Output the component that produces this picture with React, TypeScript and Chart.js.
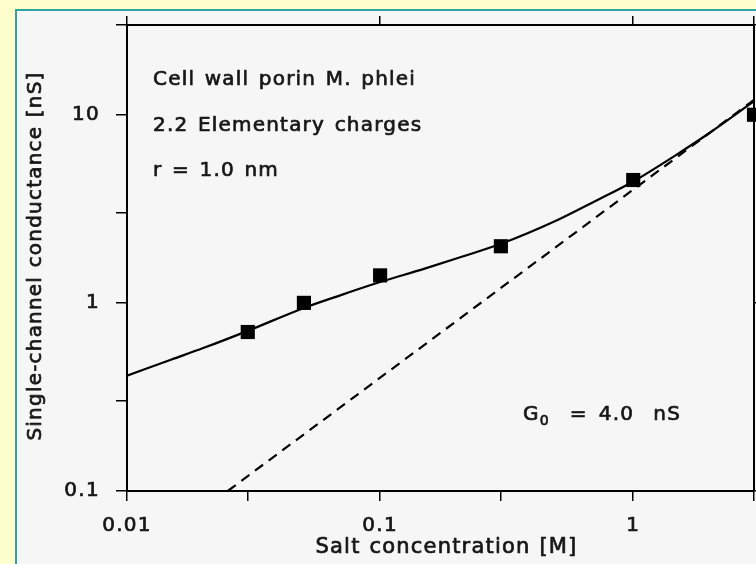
import React, { useEffect, useRef } from 'react';
import { Chart, registerables } from 'chart.js';

Chart.register(...registerables);

// Measured single-channel conductance (squares)
const concentrationsM = [0.03, 0.05, 0.1, 0.3, 1, 3];
const measuredNS = [0.7, 1.0, 1.4, 2.0, 4.5, 10];

// Theoretical fit (solid curve)
const fitConcentrationsM = [0.01, 0.015, 0.02, 0.03, 0.05, 0.07, 0.1, 0.15, 0.2, 0.3, 0.5, 0.7, 1, 1.5, 2, 3];
const fitNS = [0.41, 0.5, 0.575, 0.71, 0.94, 1.1, 1.29, 1.52, 1.72, 2.06, 2.75, 3.45, 4.42, 6.2, 8.0, 11.8];

// Uncharged channel, G = G0 * c (dashed line)
const bulkConcentrationsM = [0.025, 3];
const bulkNS = [0.1, 12];

// Axes
const xTickValues = [0.01, 0.03, 0.1, 0.3, 1, 3];
const xTickLabels = ['0.01', '', '0.1', '', '1', ''];
const yTickValues = [0.1, 0.3, 1, 3, 10, 30];
const yTickLabels = ['0.1', '', '1', '', '10', ''];
const topTickValues = [0.01, 0.1, 1, 3];
const rightTickValues = [0.1, 1, 10, 30];

const xTitle = 'Salt concentration [M]';
const yTitle = 'Single-channel conductance [nS]';
const annotationLines = ['Cell wall porin M. phlei', '2.2 Elementary charges', 'r = 1.0 nm'];

const FONT = "'DejaVu Sans', 'Liberation Sans', Arial, sans-serif";
const INK = '#161616';
const STROKE = 0.7;

function drawText(ctx: CanvasRenderingContext2D, text: string, x: number, y: number) {
  ctx.strokeText(text, x, y);
  ctx.fillText(text, x, y);
}

function fixSize(prop: 'width' | 'height', size: number) {
  return (s: any) => {
    s[prop] = size;
    s.paddingLeft = 0;
    s.paddingRight = 0;
    s.paddingTop = 0;
    s.paddingBottom = 0;
  };
}

export default function App() {
  const ref = useRef<HTMLCanvasElement | null>(null);

  useEffect(() => {
    const canvas = ref.current;
    if (!canvas) return;

    const framePlugin = {
      id: 'frame',
      beforeDraw(chart: any) {
        const ctx = chart.ctx as CanvasRenderingContext2D;
        const w = chart.width;
        const h = chart.height;
        ctx.save();
        ctx.fillStyle = '#ffffcc';
        ctx.fillRect(0, 0, w, h);
        ctx.fillStyle = '#f6f6f6';
        ctx.fillRect(15, 9, w - 15, h - 9);
        ctx.strokeStyle = '#2fa5a0';
        ctx.lineWidth = 2;
        ctx.beginPath();
        ctx.moveTo(16, h);
        ctx.lineTo(16, 10);
        ctx.lineTo(w, 10);
        ctx.stroke();
        ctx.restore();
        (ctx as any).letterSpacing = '1.3px';
      },
      afterDraw(chart: any) {
        const ctx = chart.ctx as CanvasRenderingContext2D;
        const ca = chart.chartArea;
        ctx.save();
        (ctx as any).letterSpacing = '1.2px';
        (ctx as any).wordSpacing = '2px';
        ctx.fillStyle = INK;
        ctx.strokeStyle = INK;
        ctx.lineWidth = STROKE;
        ctx.lineJoin = 'round';
        ctx.textAlign = 'left';
        ctx.textBaseline = 'alphabetic';
        ctx.font = `20px ${FONT}`;
        annotationLines.forEach((t, i) => {
          drawText(ctx, t, ca.left + 26, ca.top + 60 + i * 45.5);
        });
        let x = ca.left + 396;
        const y = ca.top + 395;
        drawText(ctx, 'G', x, y);
        x += ctx.measureText('G').width;
        ctx.font = `14px ${FONT}`;
        drawText(ctx, '0', x, y + 5);
        x += ctx.measureText('0').width;
        ctx.font = `20px ${FONT}`;
        drawText(ctx, '=', x + 20, y);
        drawText(ctx, '4.0  nS', x + 49, y);

        // axis titles
        ctx.font = `21px ${FONT}`;
        (ctx as any).wordSpacing = '1px';
        ctx.textAlign = 'center';
        drawText(ctx, xTitle, (ca.left + ca.right) / 2 + 6, 553);
        ctx.save();
        ctx.font = `20px ${FONT}`;
        ctx.translate(36, (ca.top + ca.bottom) / 2 - 2);
        ctx.rotate(-Math.PI / 2);
        ctx.textBaseline = 'middle';
        drawText(ctx, yTitle, 0, 0);
        ctx.restore();
        ctx.restore();
      },
    };

    const tickGrid = (len: number) => ({
      drawOnChartArea: false,
      drawTicks: true,
      tickLength: len,
      color: '#000',
      lineWidth: 1.5,
    });
    const border = { color: '#000', width: 2 };

    const chart = new Chart(canvas, {
      type: 'scatter',
      data: {
        datasets: [
          {
            label: 'fit',
            data: fitConcentrationsM.map((c, i) => ({ x: c, y: fitNS[i] })),
            showLine: true,
            borderColor: '#000',
            borderWidth: 2.2,
            pointRadius: 0,
            cubicInterpolationMode: 'monotone',
            fill: false,
          },
          {
            label: 'bulk',
            data: bulkConcentrationsM.map((c, i) => ({ x: c, y: bulkNS[i] })),
            showLine: true,
            borderColor: '#000',
            borderWidth: 2.2,
            borderDash: [10, 7],
            pointRadius: 0,
            fill: false,
          },
          {
            label: 'measured',
            data: concentrationsM.map((c, i) => ({ x: c, y: measuredNS[i] })),
            showLine: false,
            pointStyle: 'rect',
            pointRadius: 10,
            pointBorderWidth: 0,
            backgroundColor: '#000',
            borderColor: '#000',
            clip: false,
          },
        ],
      },
      options: {
        responsive: false,
        animation: false,
        devicePixelRatio: 1,
        layout: { padding: 0, autoPadding: false },
        plugins: { legend: { display: false }, tooltip: { enabled: false } },
        scales: {
          x: {
            type: 'logarithmic',
            position: 'bottom',
            min: 0.01,
            max: 3,
            afterBuildTicks: (s: any) => {
              s.ticks = xTickValues.map((v) => ({ value: v }));
            },
            afterFit: fixSize('height', 73),
            ticks: {
              autoSkip: false,
              maxRotation: 0,
              color: INK,
              padding: 13,
              textStrokeColor: INK,
              textStrokeWidth: STROKE,
              font: { size: 20, family: FONT },
              callback: (_v: any, i: number) => xTickLabels[i],
            },
            grid: tickGrid(10),
            border,
          },
          x2: {
            type: 'logarithmic',
            position: 'top',
            min: 0.01,
            max: 3,
            afterBuildTicks: (s: any) => {
              s.ticks = topTickValues.map((v) => ({ value: v }));
            },
            afterFit: fixSize('height', 25),
            ticks: { display: false },
            grid: tickGrid(9),
            border,
          },
          y: {
            type: 'logarithmic',
            position: 'left',
            min: 0.1,
            max: 30,
            afterBuildTicks: (s: any) => {
              s.ticks = yTickValues.map((v) => ({ value: v }));
            },
            afterFit: fixSize('width', 127),
            ticks: {
              autoSkip: false,
              color: INK,
              padding: 16,
              textStrokeColor: INK,
              textStrokeWidth: STROKE,
              font: { size: 20, family: FONT },
              callback: (_v: any, i: number) => yTickLabels[i],
            },
            grid: tickGrid(11),
            border,
          },
          y2: {
            type: 'logarithmic',
            position: 'right',
            min: 0.1,
            max: 30,
            afterBuildTicks: (s: any) => {
              s.ticks = rightTickValues.map((v) => ({ value: v }));
            },
            afterFit: fixSize('width', 2),
            ticks: { display: false },
            grid: tickGrid(8),
            border,
          },
        },
      } as any,
      plugins: [framePlugin],
    });

    return () => chart.destroy();
  }, []);

  return (
    <canvas
      ref={ref}
      width={756}
      height={564}
      style={{ position: 'fixed', left: 0, top: 0, width: 756, height: 564, display: 'block' }}
    />
  );
}
